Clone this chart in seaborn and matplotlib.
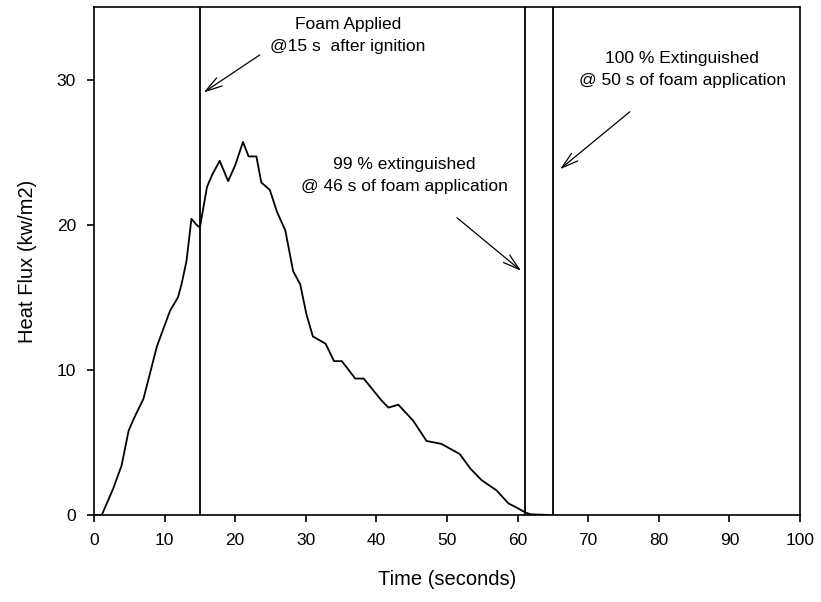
import numpy as np
import pandas as pd
import matplotlib
matplotlib.use("Agg")
import matplotlib.pyplot as plt
import seaborn as sns

# heat flux trace
time_s = [0.1, 1.1, 2.7, 3.9, 4.9, 5.6, 7.0, 7.9, 8.9, 9.8, 10.8, 11.9, 12.4,
          13.1, 13.8, 14.5, 15.0, 15.5, 16.0, 16.7, 17.8, 19.0, 20.0, 21.1,
          21.9, 23.0, 23.7, 24.9, 25.9, 27.1, 28.2, 29.2, 30.1, 31.0, 32.8,
          34.0, 35.1, 37.0, 38.2, 40.7, 41.7, 43.1, 45.2, 47.1, 49.2, 51.8,
          53.3, 54.9, 57.0, 58.7, 59.9, 61.0, 61.8, 64.6]
heat_flux = [0.0, 0.0, 1.8, 3.4, 5.8, 6.6, 8.0, 9.7, 11.6, 12.8, 14.1, 15.0,
             15.9, 17.5, 20.4, 20.0, 19.8, 21.2, 22.6, 23.4, 24.4, 23.0, 24.1,
             25.7, 24.7, 24.7, 22.9, 22.4, 20.9, 19.6, 16.8, 15.9, 13.8, 12.3,
             11.8, 10.6, 10.6, 9.4, 9.4, 7.9, 7.4, 7.6, 6.5, 5.1, 4.9, 4.2,
             3.2, 2.4, 1.7, 0.8, 0.5, 0.2, 0.05, 0.0]

event_times = [15, 61, 65]

notes = ["Foam Applied\n@15 s  after ignition",
         "99 % extinguished\n@ 46 s of foam application",
         "100 % Extinguished\n@ 50 s of foam application"]
note_tips = [(15.2, 29.0), (60.8, 16.7), (65.7, 23.7)]
note_tails = [(23.8, 31.8), (51.1, 20.6), (76.2, 27.9)]
note_text_pos = [(36.0, 33.05), (43.9, 23.4), (83.3, 30.7)]

df = pd.DataFrame({"Time": time_s, "Flux": heat_flux})

sns.set_style("ticks")
plt.rcParams['font.family'] = ['Liberation Sans', 'DejaVu Sans']
plt.rcParams['text.color'] = 'black'
plt.rcParams['axes.labelcolor'] = 'black'
plt.rcParams['xtick.color'] = 'black'
plt.rcParams['ytick.color'] = 'black'

fig = plt.figure(figsize=(8.21, 6.02), dpi=100)
ax = fig.add_axes([0.1145, 0.1445, 0.86, 0.844])

sns.lineplot(data=df, x="Time", y="Flux", color="black", lw=1.3, ax=ax)
for t in event_times:
    ax.axvline(t, color="black", lw=1.3)

for txt, tip, tail, pos in zip(notes, note_tips, note_tails, note_text_pos):
    ax.annotate("", xy=tip, xytext=tail,
                arrowprops=dict(arrowstyle="->,head_length=1.2,head_width=0.35",
                                color="black", lw=0.9))
    ax.text(pos[0], pos[1], txt, ha="center", va="center", fontsize=12.5,
            linespacing=1.55)

ax.set_xlim(0, 100)
ax.set_ylim(0, 35)
ax.set_xticks(np.arange(0, 101, 10))
ax.set_yticks([0, 10, 20, 30])
ax.tick_params(labelsize=12.5, length=5, width=1.2, direction="out", pad=8)
for sp in ax.spines.values():
    sp.set_visible(True)
    sp.set_color("black")
    sp.set_linewidth(1.2)
ax.set_xlabel("Time (seconds)", fontsize=14.5, labelpad=16)
ax.set_ylabel("Heat Flux (kw/m2)", fontsize=14.5, labelpad=14)

plt.savefig("out.png", dpi=100)
